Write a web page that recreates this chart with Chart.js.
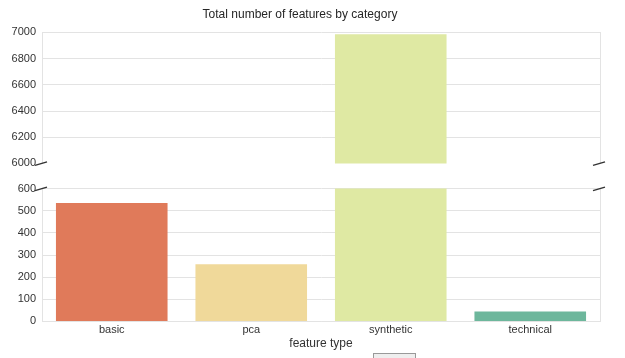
<!DOCTYPE html>
<html>
<head>
<meta charset="utf-8">
<script src="https://cdn.jsdelivr.net/npm/chart.js@4/dist/chart.umd.min.js"></script>
<style>
  html, body { margin:0; padding:0; background:#fff; }
  body { width:625px; height:358px; position:relative; overflow:hidden; font-family:"Liberation Sans", Arial, sans-serif; }
  .wrap { position:absolute; left:0; width:625px; }
  #top-wrap { top:0; height:176px; }
  #bot-wrap { top:176px; height:182px; }
  .legend-stub { position:absolute; left:373px; top:353px; width:41px; height:10px; border:1px solid #999; background:#eee; }
</style>
</head>
<body>
<div class="wrap" id="top-wrap"><canvas id="chart-top"></canvas></div>
<div class="wrap" id="bot-wrap"><canvas id="chart-bot"></canvas></div>
<div class="legend-stub"></div>
<script>
const categories = ["basic", "pca", "synthetic", "technical"];
const featureCounts = [535, 258, 6985, 45];
const barColors = ["#e07a5a", "#f0d99a", "#dfe9a3", "#6db79c"];
const topTicks = [6000, 6200, 6400, 6600, 6800, 7000];
const bottomTicks = [0, 100, 200, 300, 400, 500, 600];

const GRID = "#e3e3e3";
const TEXT = "#333";
const FONT = "'Liberation Sans', Arial, sans-serif";

// little diagonal marks where the axis is cut
function breakMarks(valueAt) {
  return {
    id: "breakMarks",
    afterDraw(chart) {
      const {ctx, chartArea} = chart;
      const y = chart.scales.y.getPixelForValue(valueAt);
      ctx.save();
      ctx.strokeStyle = "#333";
      ctx.lineWidth = 1.4;
      [chartArea.left, chartArea.right].forEach(x => {
        ctx.beginPath();
        ctx.moveTo(x - 7, y + 2);
        ctx.lineTo(x + 5, y - 1.5);
        ctx.stroke();
      });
      ctx.restore();
    }
  };
}

function baseOptions(yMin, yMax, ticks) {
  return {
    responsive: true,
    maintainAspectRatio: false,
    animation: false,
    plugins: { legend: { display: false }, tooltip: { enabled: false } },
    scales: {
      y: {
        min: yMin, max: yMax,
        afterBuildTicks: s => { s.ticks = ticks.map(v => ({value: v})); },
        afterFit: s => { s.width = 42; },
        grid: { color: ctx => ctx.tick && ctx.tick.value === 6000 ? "rgba(0,0,0,0)" : GRID, drawTicks: false },
        border: { color: GRID },
        ticks: { color: TEXT, font: { family: FONT, size: 11 }, padding: 6, callback: v => String(v) }
      },
      right: {
        position: "right", display: true,
        grid: { display: false }, border: { color: GRID },
        ticks: { display: false }, afterFit: s => { s.width = 0; }
      }
    }
  };
}

const topOpts = baseOptions(6000, 7000, topTicks);
topOpts.layout = { padding: { left: 0, right: 25, top: 0, bottom: 0 } };
topOpts.plugins.title = {
  display: true, text: "Total number of features by category",
  color: "#262626", font: { family: FONT, size: 12, weight: "normal" },
  padding: { top: 7, bottom: 11 }
};
topOpts.scales.x = {
  grid: { display: false, drawTicks: false },
  border: { display: false },
  ticks: { display: false }
};

new Chart(document.getElementById("chart-top"), {
  type: "bar",
  data: { labels: categories, datasets: [{ data: featureCounts, backgroundColor: barColors, barPercentage: 0.8, categoryPercentage: 1 }] },
  options: topOpts,
  plugins: [breakMarks(6000)]
});

const botOpts = baseOptions(0, 600, bottomTicks);
botOpts.layout = { padding: { left: 0, right: 25, top: 6, bottom: 7 } };
botOpts.scales.x = {
  grid: { display: false, drawTicks: false },
  border: { color: GRID },
  ticks: { color: TEXT, font: { family: FONT, size: 11 }, padding: 2 },
  title: { display: true, text: "feature type", color: TEXT, font: { family: FONT, size: 12 }, padding: { top: -2, bottom: 0 } }
};

new Chart(document.getElementById("chart-bot"), {
  type: "bar",
  data: { labels: categories, datasets: [{ data: featureCounts, backgroundColor: barColors, barPercentage: 0.8, categoryPercentage: 1 }] },
  options: botOpts,
  plugins: [breakMarks(600)]
});
</script>
</body>
</html>
